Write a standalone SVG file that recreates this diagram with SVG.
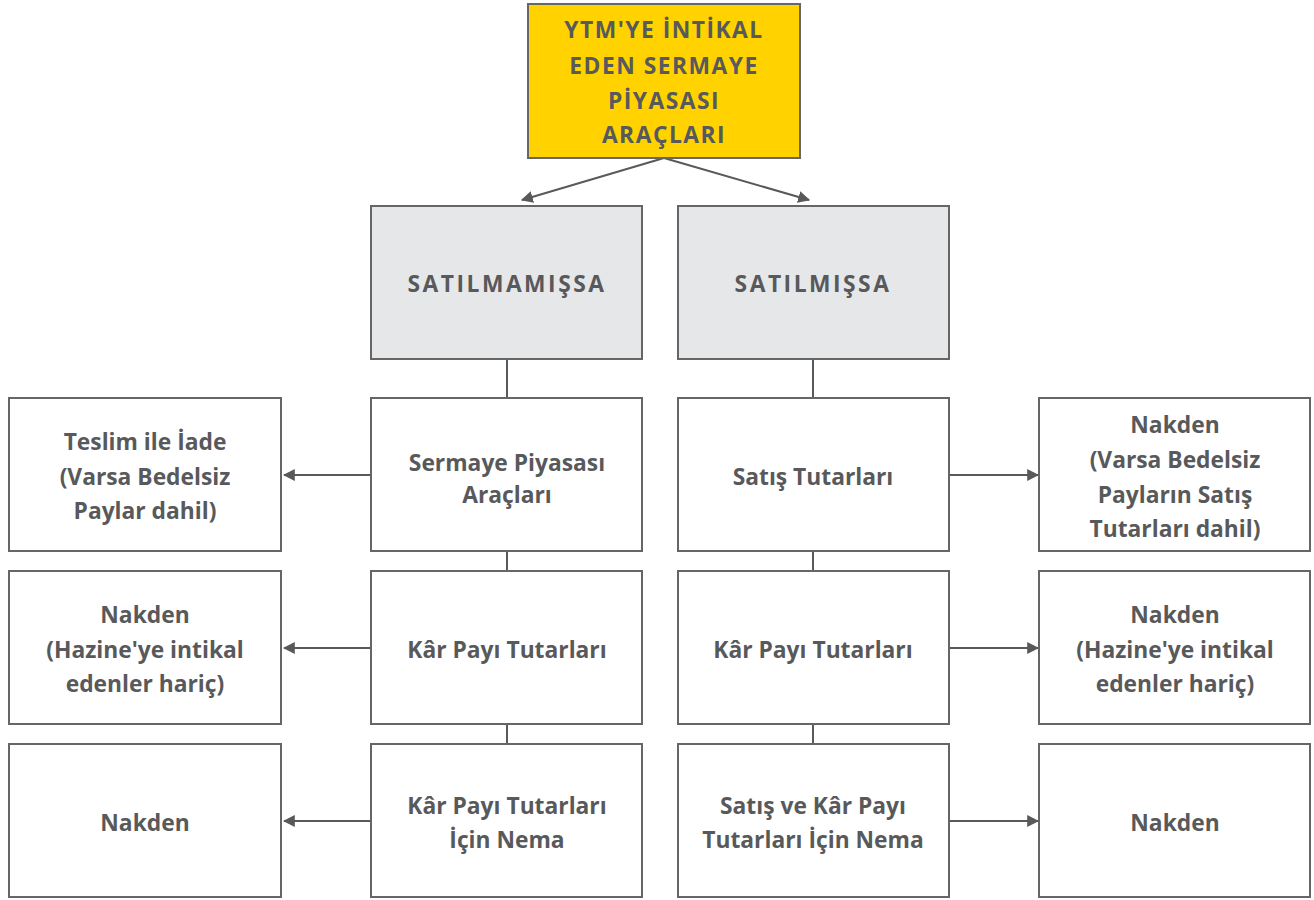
<svg xmlns="http://www.w3.org/2000/svg" width="1314" height="900" viewBox="0 0 1314 900">
<style>
.box{fill:#fff;stroke:#666;stroke-width:2}
.gray{fill:#e6e7e8;stroke:#666;stroke-width:2}
.yel{fill:#ffd200;stroke:#666;stroke-width:2}
text{font-family:"Open Sans","Liberation Sans",sans-serif;font-weight:bold;font-size:22.8px;fill:#58595b;text-anchor:middle}
.tc{letter-spacing:1.5px}
.gc{letter-spacing:2.5px}
.ln{stroke:#58595b;stroke-width:2;fill:none}
</style>
<defs>
<marker id="ah" viewBox="0 0 10 10" refX="9" refY="5" markerWidth="12" markerHeight="12" markerUnits="userSpaceOnUse" orient="auto"><path d="M0,0 L10,5 L0,10 z" fill="#58595b"/></marker>
</defs>
<g id="connectors">
<path class="ln" d="M664,158 L522,200" marker-end="url(#ah)"/>
<path class="ln" d="M664,158 L809,200" marker-end="url(#ah)"/>
<path class="ln" d="M507,359 V398 M507,551 V571 M507,724 V744 M813,359 V398 M813,551 V571 M813,724 V744"/>
<path class="ln" d="M371,475 H284" marker-end="url(#ah)"/>
<path class="ln" d="M371,648 H284" marker-end="url(#ah)"/>
<path class="ln" d="M371,821 H284" marker-end="url(#ah)"/>
<path class="ln" d="M949,475 H1038" marker-end="url(#ah)"/>
<path class="ln" d="M949,648 H1038" marker-end="url(#ah)"/>
<path class="ln" d="M949,821 H1038" marker-end="url(#ah)"/>
</g>
<g id="top"><rect class="yel" x="528" y="4" width="272" height="154"/>
<text class="tc" x="664" y="38">YTM'YE İNTİKAL</text><text class="tc" x="664" y="74">EDEN SERMAYE</text><text class="tc" x="664" y="109">PİYASASI</text><text class="tc" x="664" y="143">ARAÇLARI</text></g>
<g id="satilmamissa"><rect class="gray" x="371" y="206" width="271" height="153"/><text class="gc" x="507" y="292">SATILMAMIŞSA</text></g>
<g id="satilmissa"><rect class="gray" x="678" y="206" width="271" height="153"/><text class="gc" x="813" y="292">SATILMIŞSA</text></g>
<g id="b1"><rect class="box" x="371" y="398" width="271" height="153"/><text x="507" y="471">Sermaye Piyasası</text><text x="507" y="503">Araçları</text></g>
<g id="b2"><rect class="box" x="371" y="571" width="271" height="153"/><text x="507" y="658">Kâr Payı Tutarları</text></g>
<g id="b3"><rect class="box" x="371" y="744" width="271" height="153"/><text x="507" y="814">Kâr Payı Tutarları</text><text x="507" y="848">İçin Nema</text></g>
<g id="c1"><rect class="box" x="678" y="398" width="271" height="153"/><text x="813" y="485">Satış Tutarları</text></g>
<g id="c2"><rect class="box" x="678" y="571" width="271" height="153"/><text x="813" y="658">Kâr Payı Tutarları</text></g>
<g id="c3"><rect class="box" x="678" y="744" width="271" height="153"/><text x="813" y="814">Satış ve Kâr Payı</text><text x="813" y="848">Tutarları İçin Nema</text></g>
<g id="a1"><rect class="box" x="9" y="398" width="272" height="153"/><text x="145" y="450">Teslim ile İade</text><text x="145" y="485">(Varsa Bedelsiz</text><text x="145" y="519">Paylar dahil)</text></g>
<g id="a2"><rect class="box" x="9" y="571" width="272" height="153"/><text x="145" y="623">Nakden</text><text x="145" y="658">(Hazine'ye intikal</text><text x="145" y="692">edenler hariç)</text></g>
<g id="a3"><rect class="box" x="9" y="744" width="272" height="153"/><text x="145" y="831">Nakden</text></g>
<g id="d1"><rect class="box" x="1039" y="398" width="271" height="153"/><text x="1175" y="433">Nakden</text><text x="1175" y="468">(Varsa Bedelsiz</text><text x="1175" y="503">Payların Satış</text><text x="1175" y="537">Tutarları dahil)</text></g>
<g id="d2"><rect class="box" x="1039" y="571" width="271" height="153"/><text x="1175" y="623">Nakden</text><text x="1175" y="658">(Hazine'ye intikal</text><text x="1175" y="692">edenler hariç)</text></g>
<g id="d3"><rect class="box" x="1039" y="744" width="271" height="153"/><text x="1175" y="831">Nakden</text></g>
</svg>
